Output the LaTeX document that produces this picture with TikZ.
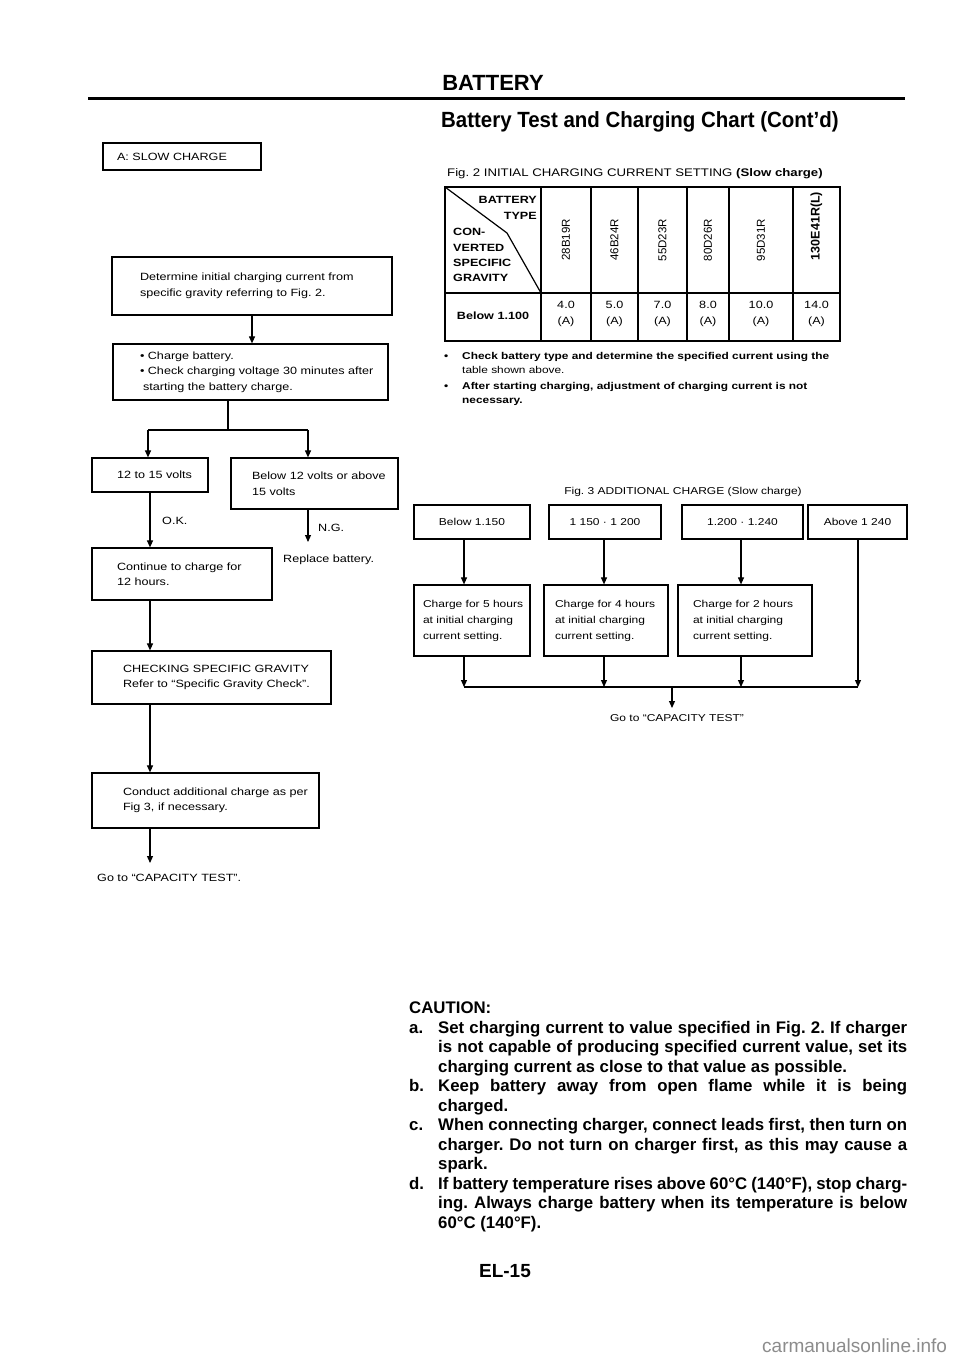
\documentclass[tikz,border=0pt]{standalone}
\usepackage{fontspec}
\setmainfont{Liberation Sans}
\newfontfamily\flowfont{Liberation Sans}[FakeStretch=1.2]
\newfontfamily\narrowfont{Liberation Sans}[FakeStretch=0.93]
\usetikzlibrary{arrows.meta}
\newcommand\bx[3]{\parbox{#1pt}{\leftskip=#2pt\rightskip=0pt plus 1fil\relax #3}}
\newcommand\fs[2]{\fontsize{#1}{#2}\selectfont}
\frenchspacing
\begin{document}
\frenchspacing
\begin{tikzpicture}[x=1pt,y=-1pt,
  box/.style={draw, line width=1.2pt, inner sep=0pt, font=\flowfont\fs{10.5}{15.5}},
  cbox/.style={draw, line width=1.2pt, inner xsep=0pt, inner ysep=0pt, align=center, font=\flowfont\fs{10}{16}},
  gbox/.style={draw, line width=1.2pt, inner sep=0pt, font=\flowfont\fs{10}{16}},
  arr/.style={line width=1.1pt, -{Triangle[length=7pt,width=6pt]}},
  ln/.style={line width=1.1pt},
  tl/.style={line width=1.2pt},
  txt/.style={inner sep=0pt, font=\flowfont\fs{10.5}{15}},
  rot/.style={inner sep=0pt, rotate=90, font=\fs{11.5}{13}},
  val/.style={inner sep=0pt, align=center, font=\flowfont\fs{10.5}{16}},
  hcell/.style={inner sep=0pt, font=\flowfont\bfseries\fs{10.5}{12}},
]
\useasboundingbox[fill=white] (0,0) rectangle (960,1358);

% ---------- header ----------
\node[inner sep=0pt, anchor=base, font=\bfseries\fs{22}{26}] (hd) at (493,90) {BATTERY};
\draw[line width=3pt] (88,98) -- (905,98);
\node[inner sep=0pt, anchor=base west, font=\narrowfont\bfseries\fs{22}{26}] (ttl) at (441,127) {Battery Test and Charging Chart (Cont’d)};

% ---------- left flowchart ----------
\node[box, minimum width=158pt, minimum height=27pt] (slow) at (182,156.5) {\bx{158}{14}{A: SLOW CHARGE}};

\node[box, minimum width=280pt, minimum height=58pt] (b1) at (252,286) {\bx{280}{28}{Determine initial charging current from\\specific gravity referring to Fig. 2.}};
\node[box, minimum width=275pt, minimum height=56pt] (b2) at (250.5,372) {\bx{275}{27}{• Charge battery.\\• Check charging voltage 30 minutes after\\\hspace*{3pt}starting the battery charge.}};
\node[box, minimum width=116pt, minimum height=34pt] (b3) at (150,475) {\bx{116}{25}{12 to 15 volts}};
\node[box, minimum width=167pt, minimum height=51pt] (b4) at (314.5,483.5) {\bx{167}{21}{Below 12 volts or above\\15 volts}};
\node[box, minimum width=180pt, minimum height=52pt] (b5) at (182,574) {\bx{180}{25}{Continue to charge for\\12 hours.}};
\node[box, minimum width=239pt, minimum height=53pt] (b6) at (211.5,677.5) {\bx{239}{31}{CHECKING SPECIFIC GRAVITY\\Refer to “Specific Gravity Check”.}};
\node[box, minimum width=227pt, minimum height=55pt] (b7) at (205.5,800.5) {\bx{227}{31}{Conduct additional charge as per\\Fig 3, if necessary.}};

\node[txt, anchor=base west] (ok) at (162,524) {O.K.};
\node[txt, anchor=base west] (ng) at (318,531) {N.G.};
\node[txt, anchor=base west] (repl) at (283,562) {Replace battery.};
\node[txt, anchor=base west] (go1) at (97,881) {Go to “CAPACITY TEST”.};

\draw[arr] (b1.south) -- (b1.south |- b2.north);
\coordinate (j) at (228,430);
\coordinate (jl) at (148,430);
\coordinate (jr) at (308,430);
\draw[ln] (j |- b2.south) -- (j);
\draw[ln] (jl) -- (jr);
\draw[arr] (jl) -- (jl |- b3.north);
\draw[arr] (jr) -- (jr |- b4.north);
\coordinate (lx) at (150,0);
\coordinate (rep) at (308,542);
\draw[arr] (lx |- b3.south) -- (lx |- b5.north);
\draw[arr] (rep |- b4.south) -- (rep);
\draw[arr] (lx |- b5.south) -- (lx |- b6.north);
\draw[arr] (lx |- b6.south) -- (lx |- b7.north);
\coordinate (goend) at (150,863);
\draw[arr] (lx |- b7.south) -- (goend);

% ---------- Fig. 2 table ----------
\node[inner sep=0pt, anchor=base west, font=\flowfont\fs{11}{13}] (f2t) at (447,176) {Fig. 2 INITIAL CHARGING CURRENT SETTING {\bfseries(Slow charge)}};
\draw[tl] (445,187) rectangle (840,341);
\draw[tl] (445,293) -- (840,293);
\foreach \xx in {541,591,638,687,729,793} \draw[tl] (\xx,187) -- (\xx,341);
\draw[tl] (445,187) -- (507,233) -- (541,293);

\node[hcell, anchor=base east] (hb) at (537,203) {BATTERY};
\node[hcell, anchor=base east] (ht) at (537,219) {TYPE};
\node[hcell, anchor=base west] (hc1) at (453,235) {CON-};
\node[hcell, anchor=base west] (hc2) at (453,251) {VERTED};
\node[hcell, anchor=base west] (hc3) at (453,266) {SPECIFIC};
\node[hcell, anchor=base west] (hc4) at (453,281) {GRAVITY};

\node[rot] (t1) at (566,240) {28B19R};
\node[rot] (t2) at (614.5,240) {46B24R};
\node[rot] (t3) at (662.5,240) {55D23R};
\node[rot] (t4) at (708,240) {80D26R};
\node[rot] (t5) at (761,240) {95D31R};
\node[rot, font=\bfseries\fs{12.5}{14}] (t6) at (816.5,226) {130E41R(L)};

\node[inner sep=0pt, font=\flowfont\bfseries\fs{10.5}{12}] (bl) at (493,316) {Below 1.100};
\node[val] (v1) at (566,314) {4.0\\(A)};
\node[val] (v2) at (614.5,314) {5.0\\(A)};
\node[val] (v3) at (662.5,314) {7.0\\(A)};
\node[val] (v4) at (708,314) {8.0\\(A)};
\node[val] (v5) at (761,314) {10.0\\(A)};
\node[val] (v6) at (816.5,314) {14.0\\(A)};

\node[txt, anchor=base west, font=\flowfont\bfseries\fs{9.9}{12}] (n1b) at (444,359) {•};
\node[txt, anchor=base west, font=\flowfont\bfseries\fs{9.9}{12}] (n1) at (462,359) {Check battery type and determine the specified current using the};
\node[txt, anchor=base west, font=\flowfont\fs{9.9}{12}] (n1c) at (462,373) {table shown above.};
\node[txt, anchor=base west, font=\flowfont\bfseries\fs{9.9}{12}] (n2b) at (444,389) {•};
\node[txt, anchor=base west, font=\flowfont\bfseries\fs{9.9}{12}] (n2) at (462,389) {After starting charging, adjustment of charging current is not};
\node[txt, anchor=base west, font=\flowfont\bfseries\fs{9.9}{12}] (n2c) at (462,403) {necessary.};

% ---------- Fig. 3 ----------
\node[inner sep=0pt, anchor=base, font=\flowfont\fs{10}{12}] (f3t) at (683,494) {Fig. 3 ADDITIONAL CHARGE (Slow charge)};
\node[cbox, minimum width=116pt, minimum height=34pt] (f1) at (472,522) {Below 1.150};
\node[cbox, minimum width=112pt, minimum height=34pt] (f2) at (605,522) {1 150 · 1 200};
\node[cbox, minimum width=121pt, minimum height=34pt] (f3) at (742.5,522) {1.200 · 1.240};
\node[cbox, minimum width=99pt, minimum height=34pt] (f4) at (857.5,522) {Above 1 240};

\node[gbox, minimum width=116pt, minimum height=71pt] (g1) at (472,620.5) {\bx{116}{9}{Charge for 5 hours\\at initial charging\\current setting.}};
\node[gbox, minimum width=124pt, minimum height=71pt] (g2) at (606,620.5) {\bx{124}{11}{Charge for 4 hours\\at initial charging\\current setting.}};
\node[gbox, minimum width=134pt, minimum height=71pt] (g3) at (745,620.5) {\bx{134}{15}{Charge for 2 hours\\at initial charging\\current setting.}};

\coordinate (c1) at (464,687);
\coordinate (c2) at (604,687);
\coordinate (c3) at (741,687);
\coordinate (c4) at (858,687);
\draw[arr] (c1 |- f1.south) -- (c1 |- g1.north);
\draw[arr] (c2 |- f2.south) -- (c2 |- g2.north);
\draw[arr] (c3 |- f3.south) -- (c3 |- g3.north);
\draw[arr] (c1 |- g1.south) -- (c1);
\draw[arr] (c2 |- g2.south) -- (c2);
\draw[arr] (c3 |- g3.south) -- (c3);
\draw[arr] (c4 |- f4.south) -- (c4);
\draw[ln] (c1) -- (c4);
\coordinate (cm) at (672,687);
\coordinate (cgo) at (672,708);
\draw[arr] (cm) -- (cgo);
\node[inner sep=0pt, anchor=base, font=\flowfont\fs{10}{12}] (go2) at (677,721) {Go to “CAPACITY TEST”};

% ---------- caution ----------
\node[anchor=north west, inner sep=0pt, text width=498pt, align=justify, font=\bfseries\fs{16.8}{19.5}] (caution) at (409,1002) {%
\parindent=0pt\frenchspacing
CAUTION:\par
\hangindent=29pt\hangafter=1\makebox[29pt][l]{a.}Set charging current to value specified in Fig.~2. If charger\linebreak is not capable of producing specified current value, set its\linebreak charging current as close to that value as possible.\par
\hangindent=29pt\hangafter=1\makebox[29pt][l]{b.}Keep battery away from open flame while it is being\linebreak charged.\par
\hangindent=29pt\hangafter=1\makebox[29pt][l]{c.}When connecting charger, connect leads first, then turn on\linebreak charger. Do not turn on charger first, as this may cause a\linebreak spark.\par
\hangindent=29pt\hangafter=1\makebox[29pt][l]{d.}If battery temperature rises above 60°C (140°F), stop charg-\linebreak ing. Always charge battery when its temperature is below\linebreak 60°C (140°F).\par};

\node[inner sep=0pt, anchor=base, font=\bfseries\fs{19}{22}] (pg) at (505,1277) {EL-15};
\node[inner sep=0pt, anchor=base west, text=black!45, font=\fs{19}{22}] (wm) at (762,1352) {carmanualsonline.info};
\end{tikzpicture}
\end{document}
